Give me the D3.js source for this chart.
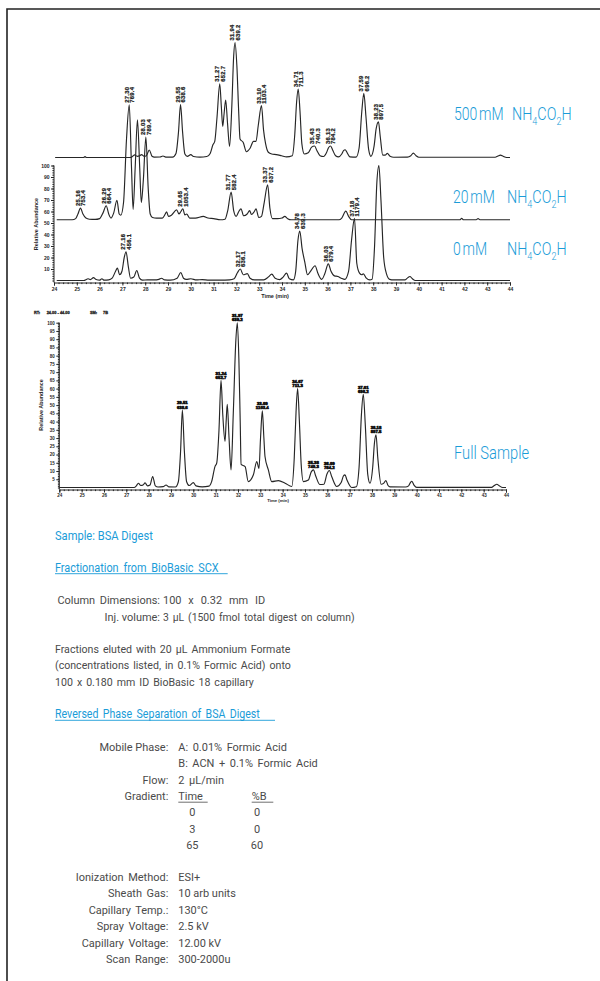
<!DOCTYPE html>
<html>
<head>
<meta charset="utf-8">
<script src="https://cdn.jsdelivr.net/npm/d3@7"></script>
<style>
  html, body { margin: 0; padding: 0; background: #fff; }
  svg { display: block; }
</style>
</head>
<body>
<svg id="fig" width="600" height="981"></svg>
<script>
// ---------------- data ----------------
// Retention-time axis (min) and abundance tick labels
const timeTicks = [24,25,26,27,28,29,30,31,32,33,34,35,36,37,38,39,40,41,42,43,44];
const stackAbundanceTicks = [10,20,30,40,50,60,70,80,90,100];
const fullAbundanceTicks = [5,10,15,20,25,30,35,40,45,50,55,60,65,70,75,80,85,90,95,100];

// Fraction names (ammonium formate step) and vertical offsets of the stacked traces (relative abundance units)
const fractionNames = ["500 mM", "20 mM", "0 mM"];
const fractionOffsets = [107, 52.8, 0];

// Chromatogram traces: [retention time (min), relative abundance]
const trace500 = [
  [24.05,0],[25.30,0],[25.36,0.8],[25.42,0],[27.35,0],[27.45,1.0],[27.54,2.2],[27.65,1.0],[27.75,1.4],[27.84,2.5],
  [27.95,1.0],[28.05,1.5],[28.18,6.5],[28.30,1.0],[28.40,0.3],[28.65,0.4],[28.78,1.3],[28.90,0.3],[29.20,0.3],
  [29.35,3.5],[29.46,22],[29.55,46],[29.64,22],[29.74,3],[29.85,1],[30.00,2.5],[30.12,0.8],[30.40,0.3],[30.70,0.8],
  [30.85,3.5],[30.97,11],[31.05,14],[31.15,35],[31.27,64],[31.34,44],[31.40,27],[31.46,38],[31.53,50],[31.61,30],
  [31.70,9.6],[31.80,45],[31.88,88],[31.94,100],[32.02,80],[32.10,40],[32.16,16],[32.30,13],[32.44,5],[32.60,8],
  [32.75,14],[32.86,14],[32.96,28],[33.10,45],[33.19,24],[33.28,12],[33.40,4.5],[33.55,3],[33.75,2.5],[33.98,1.5],
  [34.20,0.5],[34.45,1.5],[34.56,20],[34.64,48],[34.71,59.5],[34.79,40],[34.87,12],[34.98,3],[35.15,4],[35.30,9],
  [35.43,10],[35.53,6],[35.67,1.5],[35.82,0.8],[35.95,4],[36.04,8.5],[36.13,10],[36.22,6.5],[36.35,1.5],[36.48,0.5],
  [36.62,3],[36.70,6],[36.77,6.7],[36.86,4],[36.98,0.5],[37.25,0.3],[37.38,8],[37.50,40],[37.59,55.7],[37.68,36],
  [37.80,7],[37.90,1],[38.04,10],[38.13,25],[38.23,31],[38.31,18],[38.42,2],[38.52,2],[38.62,3.5],[38.74,1],
  [38.90,0.2],[39.50,0.3],[39.65,1.5],[39.76,3.8],[39.88,1.5],[40.00,0.2],[43.35,0.2],[43.47,1.2],[43.58,2],
  [43.70,1],[43.85,0],[44.00,0]
];

const trace20 = [
  [24.12,0],[24.80,0],[24.95,1.0],[25.05,5],[25.16,10.2],[25.27,5],[25.40,1.5],[25.55,0.5],[25.80,0.3],[26.00,1.0],
  [26.15,6],[26.29,12.2],[26.40,5],[26.50,1.5],[26.62,6],[26.76,17],[26.86,5],[26.93,4],[27.05,15],[27.18,70],
  [27.30,100],[27.40,45],[27.47,9],[27.56,45],[27.66,87],[27.76,45],[27.83,15],[27.92,35],[28.03,72],[28.13,28],
  [28.22,5],[28.32,2],[28.50,1.5],[28.75,1.5],[28.88,5],[28.94,7],[29.02,3],[29.15,4],[29.38,8.7],[29.48,5],
  [29.56,7],[29.65,9.6],[29.74,4.3],[29.82,5],[29.95,1.5],[30.20,1.5],[30.55,3],[30.75,1.5],[31.00,1],[31.30,0],
  [31.50,0.5],[31.62,8],[31.77,24],[31.88,8],[31.99,3],[32.10,7],[32.20,9.5],[32.32,3.5],[32.47,5],[32.58,8],
  [32.66,4.6],[32.78,7],[32.86,9.5],[32.98,2],[33.10,3],[33.22,15],[33.37,30.4],[33.47,10],[33.58,1],[33.80,1],
  [34.00,1.5],[34.12,3],[34.25,1],[34.40,0],[36.50,0],[36.62,1.5],[36.80,7.5],[36.92,3],[37.05,0],[41.80,0],
  [41.88,1.2],[41.96,0],[42.52,0],[42.60,1],[42.68,0],[44.00,0]
];

const trace0 = [
  [24.12,0],[25.30,0],[25.50,1.5],[25.60,0.8],[25.73,2.5],[25.85,0.8],[26.00,0.3],[26.10,1.5],[26.20,0.3],[26.40,0.5],
  [26.55,2],[26.70,8],[26.78,10.8],[26.88,5],[26.98,8],[27.08,20],[27.16,25],[27.26,12],[27.36,2],[27.50,3],
  [27.63,8.7],[27.75,2],[27.88,0.3],[28.10,0.5],[28.40,0.5],[28.60,1],[28.72,2],[28.85,0.5],[29.10,0.3],[29.40,2],
  [29.56,7],[29.68,2],[29.80,1],[30.00,1.5],[30.25,0.5],[30.50,0.8],[30.80,0.3],[31.30,0.3],[31.70,0.5],[31.90,1.5],
  [32.05,7],[32.17,10],[32.30,5],[32.48,6],[32.60,2],[32.80,0.5],[33.20,0.5],[33.40,3],[33.55,5.5],[33.70,2],
  [33.90,0.8],[34.05,3],[34.20,6.4],[34.32,1.5],[34.50,0.5],[34.60,8],[34.70,35],[34.78,43],[34.88,28],[35.00,16],
  [35.12,5],[35.25,8],[35.45,12.8],[35.58,6],[35.74,1],[35.88,6],[36.03,14.5],[36.15,8],[36.30,4],[36.45,3.5],
  [36.60,2],[36.75,1],[36.92,8],[37.05,35],[37.18,54],[37.28,15],[37.40,6.4],[37.50,5],[37.57,5.8],[37.70,2],
  [37.85,0.5],[37.95,1],[38.06,30],[38.16,85],[38.25,100],[38.34,70],[38.46,20],[38.58,6],[38.72,1],[38.90,0.5],
  [39.40,0.5],[39.52,2.5],[39.61,3.5],[39.72,1.5],[39.85,0],[44.00,0]
];

const traceFull = [
  [24.00,0],[27.35,0],[27.45,1.0],[27.54,2.6],[27.65,1.2],[27.75,1.5],[27.84,2.8],[27.95,1.0],[28.06,1.5],[28.18,6.7],
  [28.30,1.0],[28.42,0.3],[28.65,0.5],[28.78,1.5],[28.90,0.4],[29.20,0.3],[29.33,3.5],[29.43,22],[29.51,47],[29.60,22],
  [29.70,3.5],[29.82,1.2],[30.00,3.0],[30.12,1.0],[30.40,0.4],[30.70,0.8],[30.82,3.6],[30.97,12.7],[31.05,15],[31.15,35],
  [31.24,65],[31.32,44],[31.42,28],[31.47,40],[31.52,50.5],[31.60,30],[31.69,10.7],[31.79,45],[31.90,88],[31.97,100],
  [32.04,78],[32.10,40],[32.14,14],[32.32,12.7],[32.46,3.6],[32.69,7.7],[32.84,15.8],[32.94,11.5],[33.01,30],[33.09,46.5],
  [33.16,30],[33.21,18.8],[33.36,10.7],[33.51,3.6],[33.81,4.2],[34.11,2.6],[34.41,0.6],[34.52,18],[34.60,46],[34.67,60],
  [34.75,40],[34.83,14],[34.93,3.6],[35.15,4.5],[35.28,9.5],[35.38,10.7],[35.48,7],[35.67,1.8],[35.85,2],[35.98,8],
  [36.09,10.3],[36.20,6.5],[36.42,0.6],[36.62,3],[36.72,7],[36.79,7.7],[36.88,4.5],[37.09,0],[37.30,0.5],[37.42,12],
  [37.53,45],[37.61,56.6],[37.70,38],[37.81,8],[37.91,2.6],[38.03,12],[38.11,27],[38.18,32],[38.26,18],[38.41,2],
  [38.52,2.5],[38.62,4.2],[38.72,1.2],[38.81,0.4],[39.50,0.3],[39.64,1],[39.72,3],[39.78,3.8],[39.88,1.5],[40.00,0.1],
  [43.35,0.1],[43.48,1.2],[43.59,2],[43.70,1],[43.85,0],[44.00,0]
];

// Peak annotations: retention time and base-peak m/z
const peaks500Time = [29.55, 31.27, 31.94, 33.10, 34.71, 35.43, 36.13, 37.59, 38.23];
const peaks500Mz   = ["638.6","652.7","639.2","1103.4","711.3","740.3","784.2","696.2","897.5"];
const peaks20Time  = [25.16, 26.29, 27.30, 28.03, 29.65, 31.77, 33.37];
const peaks20Mz    = ["753.4","664.4","769.4","789.4","1053.4","582.4","637.2"];
const peaks0Time   = [27.16, 32.17, 34.78, 36.03, 37.18];
const peaks0Mz     = ["456.1","636.1","639.3","679.4","1179.4"];
const peaksFullTime = [29.51, 31.24, 31.97, 33.09, 34.67, 35.38, 36.09, 37.61, 38.18];
const peaksFullMz   = ["638.6","652.7","639.2","1103.4","711.3","740.3","784.2","696.2","897.5"];

// Method text
const methodKeys = ["Column Dimensions:", "Inj. volume:"];
const methodValues = ["100 x 0.32 mm ID", "3 \u00b5L (1500 fmol total digest on column)"];
const elutionLines = [
  "Fractions eluted with 20 \u00b5L Ammonium Formate",
  "(concentrations listed, in 0.1% Formic Acid) onto",
  "100 x 0.180 mm ID BioBasic 18 capillary"
];
const rpKeys = ["Mobile Phase:", "", "Flow:", "Gradient:"];
const rpValues = ["A: 0.01% Formic Acid", "B: ACN + 0.1% Formic Acid", "2 \u00b5L/min", ""];
const gradientHeader = ["Time", "%B"];
const gradientTime = ["0", "3", "65"];
const gradientB = ["0", "0", "60"];
const msKeys = ["Ionization Method:", "Sheath Gas:", "Capillary Temp.:", "Spray Voltage:", "Capillary Voltage:", "Scan Range:"];
const msValues = ["ESI+", "10 arb units", "130\u00b0C", "2.5  kV", "12.00 kV", "300-2000u"];

// ---------------- drawing ----------------
const BLUE = "#1a9cd8";
const INK = "#262626";
const GREY = "#4a4a4a";
const svg = d3.select("#fig");

// frame
svg.append("path").attr("d", "M600,9H7V981").attr("fill", "none")
  .attr("stroke", "#222").attr("stroke-width", 1.6);

const axisFont = "'Liberation Sans', Arial, sans-serif";

function styleAxis(g, fs) {
  g.select(".domain").attr("stroke", INK).attr("stroke-width", 1);
  g.selectAll(".tick line").attr("stroke", INK);
  g.selectAll(".tick text").attr("font-family", axisFont).attr("font-weight", "bold")
    .attr("font-size", fs).attr("fill", INK);
}

// ---- stacked fractions chart ----
const xStack = d3.scaleLinear().domain([24, 44]).range([54, 510]);
const yStack = d3.scaleLinear().domain([0, 100]).range([280.5, 165.5]);
const stack = svg.append("g");

// x axis
const xAxisStack = stack.append("g").attr("transform", "translate(0,282.5)")
  .call(d3.axisBottom(xStack).tickValues(timeTicks).tickFormat(d3.format("d")).tickSize(3).tickPadding(1.5));
styleAxis(xAxisStack, 5);
const xMinorStack = stack.append("g").attr("transform", "translate(0,282.5)")
  .call(d3.axisBottom(xStack).tickValues(d3.range(24, 44.001, 0.2)).tickFormat("").tickSize(1.6));
xMinorStack.select(".domain").remove();
xMinorStack.selectAll(".tick line").attr("stroke", INK);

// y axis
const yAxisStack = stack.append("g").attr("transform", "translate(54,0)")
  .call(d3.axisLeft(yStack).tickValues(stackAbundanceTicks).tickSize(3).tickPadding(1.5));
styleAxis(yAxisStack, 5);
yAxisStack.select(".domain").attr("d", `M0,${yStack(100)}V282.5`);
const yMinorStack = stack.append("g").attr("transform", "translate(54,0)")
  .call(d3.axisLeft(yStack).tickValues(d3.range(0, 100.001, 2)).tickFormat("").tickSize(1.6));
yMinorStack.select(".domain").remove();
yMinorStack.selectAll(".tick line").attr("stroke", INK);

stack.append("text").attr("transform", "translate(38,224) rotate(-90)")
  .attr("text-anchor", "middle").attr("font-family", axisFont).attr("font-weight", "bold")
  .attr("font-size", 5.5).attr("fill", INK).text("Relative Abundance");
stack.append("text").attr("x", 275).attr("y", 297.5).attr("text-anchor", "middle")
  .attr("font-family", axisFont).attr("font-weight", "bold").attr("font-size", 5.5)
  .attr("fill", INK).text("Time (min)");

// traces
const traces = [trace500, trace20, trace0];
const peakTimes = [peaks500Time, peaks20Time, peaks0Time];
const peakMz = [peaks500Mz, peaks20Mz, peaks0Mz];

traces.forEach((tr, i) => {
  const off = fractionOffsets[i];
  const line = d3.line().x(d => xStack(d[0])).y(d => yStack(d[1] + off)).curve(d3.curveMonotoneX);
  stack.append("path").datum(tr).attr("d", line).attr("fill", "none")
    .attr("stroke", INK).attr("stroke-width", 1.15).attr("stroke-linejoin", "round");
});

// rotated peak labels (retention time / m/z)
traces.forEach((tr, i) => {
  const off = fractionOffsets[i];
  peakTimes[i].forEach((t, k) => {
    const apex = tr.find(p => p[0] === t);
    const g = stack.append("g")
      .attr("transform", `translate(${xStack(t)},${yStack(apex[1] + off) - 2}) rotate(-90)`)
      .attr("font-family", axisFont).attr("font-weight", "bold").attr("font-size", 5.8)
      .attr("fill", INK).attr("stroke", INK).attr("stroke-width", 0.25);
    g.append("text").attr("x", 0).attr("y", -0.7).attr("letter-spacing", 0.3).text(t.toFixed(2));
    g.append("text").attr("x", 0).attr("y", 4.9).attr("letter-spacing", 0.3).text(peakMz[i][k]);
  });
});

// fraction names with ammonium formate formula
function formula(x, y) {
  const g = svg.append("g").attr("transform", `translate(${x},${y}) scale(0.82,1)`);
  const t = g.append("text").attr("font-family", "Roboto, sans-serif").attr("font-weight", 300)
    .attr("font-size", 17.5).attr("fill", BLUE);
  t.append("tspan").text("NH");
  t.append("tspan").attr("font-size", 11).attr("dy", 5).text("4");
  t.append("tspan").attr("dy", -5).text("CO");
  t.append("tspan").attr("font-size", 11).attr("dy", 5).text("2");
  t.append("tspan").attr("dy", -5).text("H");
}
function blueText(x, y, str, size, sx, ws) {
  svg.append("g").attr("transform", `translate(${x},${y}) scale(${sx},1)`)
    .append("text").attr("font-family", "Roboto, sans-serif").attr("font-weight", 300)
    .attr("font-size", size).attr("fill", BLUE).attr("word-spacing", ws).text(str);
}
const nameSlots = [[454, 120, 512], [453, 203, 507], [453, 255, 507]];
fractionNames.forEach((n, i) => {
  const s = nameSlots[i];
  blueText(s[0], s[1], n, 17.5, 0.8, -2);
  formula(s[2], s[1]);
});

// ---- full sample chart ----
const xFull = d3.scaleLinear().domain([24, 44]).range([59.3, 506]);
const yFull = d3.scaleLinear().domain([0, 100]).range([487.5, 322.7]);
const full = svg.append("g");

const xAxisFull = full.append("g").attr("transform", "translate(0,489.5)")
  .call(d3.axisBottom(xFull).tickValues(timeTicks).tickFormat(d3.format("d")).tickSize(3).tickPadding(1));
styleAxis(xAxisFull, 4.5);
const xMinorFull = full.append("g").attr("transform", "translate(0,489.5)")
  .call(d3.axisBottom(xFull).tickValues(d3.range(24, 44.001, 0.2)).tickFormat("").tickSize(1.6));
xMinorFull.select(".domain").remove();
xMinorFull.selectAll(".tick line").attr("stroke", INK);

const yAxisFull = full.append("g").attr("transform", "translate(59.3,0)")
  .call(d3.axisLeft(yFull).tickValues(fullAbundanceTicks).tickSize(3).tickPadding(1.5));
styleAxis(yAxisFull, 4.5);
yAxisFull.select(".domain").attr("d", `M0,${yFull(100)}V489.5`);
const yMinorFull = full.append("g").attr("transform", "translate(59.3,0)")
  .call(d3.axisLeft(yFull).tickValues(d3.range(0, 100.001, 1)).tickFormat("").tickSize(1.4));
yMinorFull.select(".domain").remove();
yMinorFull.selectAll(".tick line").attr("stroke", INK);

full.append("text").attr("transform", "translate(43,405) rotate(-90)")
  .attr("text-anchor", "middle").attr("font-family", axisFont).attr("font-weight", "bold")
  .attr("font-size", 5.4).attr("fill", INK).text("Relative Abundance");
full.append("text").attr("x", 278).attr("y", 502).attr("text-anchor", "middle")
  .attr("font-family", axisFont).attr("font-weight", "bold").attr("font-size", 4.3)
  .attr("fill", INK).text("Time (min)");

// run header
[["RT:", 34], ["24.00 - 44.00", 46.7], ["SM:", 90], ["7B", 103]].forEach(h => {
  full.append("text").attr("x", h[1]).attr("y", 313.5).attr("font-family", axisFont)
    .attr("font-weight", "bold").attr("font-size", 3.9).attr("fill", INK)
    .attr("stroke", INK).attr("stroke-width", 0.3).text(h[0]);
});

const lineFull = d3.line().x(d => xFull(d[0])).y(d => yFull(d[1])).curve(d3.curveMonotoneX);
full.append("path").datum(traceFull).attr("d", lineFull).attr("fill", "none")
  .attr("stroke", INK).attr("stroke-width", 1.15).attr("stroke-linejoin", "round");

peaksFullTime.forEach((t, k) => {
  const apex = traceFull.find(p => p[0] === t);
  const x = xFull(t), y = yFull(apex[1]);
  const g = full.append("g").attr("font-family", axisFont).attr("font-weight", "bold")
    .attr("font-size", 4.3).attr("fill", "#161616").attr("stroke", "#161616")
    .attr("stroke-width", 0.7).attr("text-anchor", "middle");
  g.append("text").attr("x", x).attr("y", y - 5.6).text(t.toFixed(2));
  g.append("text").attr("x", x).attr("y", y - 1.4).text(peaksFullMz[k]);
});

blueText(454, 459, "Full Sample", 17.5, 0.84, 0);

// ---- method description ----
function greyText(x, y, str, anchor, sx, ws) {
  svg.append("g").attr("transform", `translate(${x},${y}) scale(${sx || 0.93},1)`)
    .append("text").attr("font-family", "Roboto, sans-serif").attr("font-size", 11.8)
    .attr("fill", GREY).attr("text-anchor", anchor || "start")
    .attr("word-spacing", ws || 0).text(str);
}
function heading(x, y, str, sx, ws, underlineTo) {
  svg.append("g").attr("transform", `translate(${x},${y}) scale(${sx},1)`)
    .append("text").attr("font-family", "Roboto, sans-serif").attr("font-size", 12.8)
    .attr("fill", BLUE).attr("word-spacing", ws).text(str);
  if (underlineTo) {
    svg.append("line").attr("x1", x).attr("x2", underlineTo).attr("y1", y + 2).attr("y2", y + 2)
      .attr("stroke", BLUE).attr("stroke-width", 0.9);
  }
}

heading(55, 539.5, "Sample: BSA Digest", 0.87, 0);
heading(55, 571.7, "Fractionation from BioBasic SCX", 0.85, 2.5, 227.7);

greyText(160, 604, methodKeys[0], "end", 0.93, 2);
greyText(163, 604, methodValues[0], "start", 0.93, 4.5);
greyText(160, 620.7, methodKeys[1], "end", 0.93, 0);
greyText(163, 620.7, methodValues[1], "start", 0.88, 1.5);

elutionLines.forEach((l, i) => greyText(55, 652.7 + i * 16.5, l, "start", 0.9, 1.5));

heading(55, 718.3, "Reversed Phase Separation of BSA Digest", 0.83, 2, 275);

rpKeys.forEach((k, i) => {
  const y = 750.7 + i * 16.5;
  if (k) greyText(168.3, y, k, "end");
  if (rpValues[i]) greyText(178.3, y, rpValues[i], "start", 0.93, 2);
});
// gradient table
const gy = 750.7 + 3 * 16.5;
greyText(178.3, gy, gradientHeader[0]);
greyText(251.7, gy, gradientHeader[1]);
svg.append("line").attr("x1", 178.3).attr("x2", 207.7).attr("y1", gy + 2).attr("y2", gy + 2)
  .attr("stroke", GREY).attr("stroke-width", 0.8);
svg.append("line").attr("x1", 251.7).attr("x2", 273.3).attr("y1", gy + 2).attr("y2", gy + 2)
  .attr("stroke", GREY).attr("stroke-width", 0.8);
gradientTime.forEach((v, i) => {
  greyText(192.3, gy + 16.2 * (i + 1), v, "middle");
  greyText(257, gy + 16.2 * (i + 1), gradientB[i], "middle");
});

msKeys.forEach((k, i) => {
  const y = 881 + i * 16.45;
  greyText(168.3, y, k, "end", 0.93, 2);
  greyText(178.3, y, msValues[i]);
});
</script>
</body>
</html>
